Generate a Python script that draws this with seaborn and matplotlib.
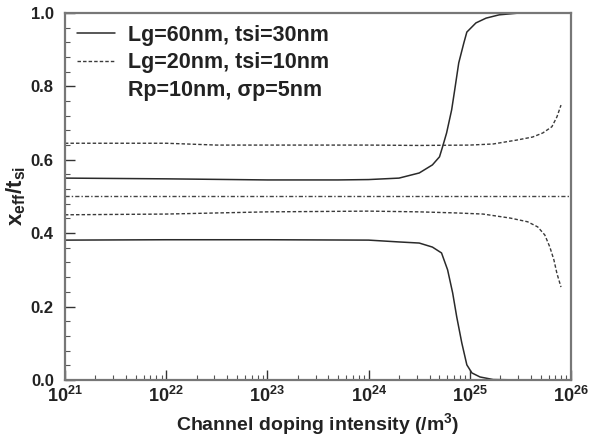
import numpy as np
import pandas as pd
import seaborn as sns
import matplotlib
matplotlib.use("Agg")
import matplotlib.pyplot as plt
from matplotlib.lines import Line2D
from matplotlib.ticker import FixedLocator, FixedFormatter, MultipleLocator

# log10 of doping intensity and xeff/tsi values
lg60_upper_x = [21.0, 22.0, 23.0, 23.7, 24.0, 24.3, 24.5, 24.63, 24.70, 24.73, 24.77, 24.82, 24.85,
                24.89, 24.94, 24.97, 25.06, 25.16, 25.29, 25.49, 25.68]
lg60_upper_y = [0.550, 0.548, 0.545, 0.545, 0.546, 0.550, 0.564, 0.586, 0.608, 0.635, 0.673, 0.736, 0.790,
                0.864, 0.918, 0.948, 0.973, 0.986, 0.995, 1.000, 1.000]
lg60_lower_x = [21.0, 22.0, 23.0, 24.0, 24.3, 24.5, 24.63, 24.72, 24.78, 24.83, 24.87, 24.92, 24.97,
                25.02, 25.10, 25.23, 25.47]
lg60_lower_y = [0.381, 0.382, 0.382, 0.381, 0.376, 0.373, 0.362, 0.346, 0.300, 0.237, 0.172, 0.101, 0.041,
                0.019, 0.008, 0.001, 0.000]
lg20_upper_x = [21.0, 22.0, 22.5, 23.0, 24.0, 24.5, 25.0, 25.23, 25.47, 25.62, 25.72, 25.81, 25.86, 25.90]
lg20_upper_y = [0.645, 0.645, 0.640, 0.640, 0.640, 0.639, 0.640, 0.643, 0.654, 0.662, 0.673, 0.690, 0.717, 0.749]
lg20_lower_x = [21.0, 22.0, 23.0, 24.0, 24.5, 24.87, 25.13, 25.40, 25.57, 25.67, 25.74, 25.79, 25.83, 25.86, 25.90]
lg20_lower_y = [0.450, 0.452, 0.458, 0.460, 0.458, 0.455, 0.452, 0.441, 0.431, 0.417, 0.395, 0.362, 0.327, 0.290, 0.253]
center_x = [21.0, 26.0]
center_y = [0.5, 0.5]

xtick_exps = [21, 22, 23, 24, 25, 26]
ytick_vals = [0.0, 0.2, 0.4, 0.6, 0.8, 1.0]

sns.set_style("ticks")
plt.rcParams['font.family'] = ['Liberation Sans', 'DejaVu Sans']
plt.rcParams['mathtext.fontset'] = 'custom'
plt.rcParams['mathtext.rm'] = 'Liberation Sans'
plt.rcParams['mathtext.bf'] = 'Liberation Sans:bold'

fig = plt.figure(figsize=(5.9, 4.48), dpi=100)
ax = fig.add_axes([0.110, 0.152, 0.858, 0.819])

def curve(xs, ys):
    return pd.DataFrame({"N": 10.0 ** np.array(xs), "x": ys})

solid_kw = dict(color="#2a2a2a", linewidth=1.1)
dash_kw = dict(color="#3a3a3a", linewidth=1.0, linestyle=(0, (2.5, 1.5)))

sns.lineplot(data=curve(lg60_upper_x, lg60_upper_y), x="N", y="x", ax=ax, **solid_kw)
sns.lineplot(data=curve(lg60_lower_x, lg60_lower_y), x="N", y="x", ax=ax, **solid_kw)
sns.lineplot(data=curve(lg20_upper_x, lg20_upper_y), x="N", y="x", ax=ax, **dash_kw)
sns.lineplot(data=curve(lg20_lower_x, lg20_lower_y), x="N", y="x", ax=ax, **dash_kw)
sns.lineplot(data=curve(center_x, center_y), x="N", y="x", ax=ax,
             color="#444444", linewidth=1.0, linestyle=(0, (3, 1.5, 1, 1.5)))

ax.set_xscale("log")
ax.set_xlim(1e21, 1e26)
ax.set_ylim(0, 1.0)

ax.xaxis.set_major_locator(FixedLocator([10.0 ** e for e in xtick_exps]))
ax.xaxis.set_major_formatter(FixedFormatter([r"$\mathbf{10^{%d}}$" % e for e in xtick_exps]))
minors = [m * 10.0 ** e for e in xtick_exps[:-1] for m in range(2, 10)]
ax.xaxis.set_minor_locator(FixedLocator(minors))
ax.xaxis.set_minor_formatter(FixedFormatter([""] * len(minors)))

ax.yaxis.set_major_locator(FixedLocator(ytick_vals))
ax.set_yticklabels([f"{v:.1f}" for v in ytick_vals], fontweight="bold")
ax.yaxis.set_minor_locator(MultipleLocator(0.04))

ax.tick_params(axis="both", which="major", direction="in", length=7, width=1.0,
               labelsize=12, colors="#333333", labelcolor="#222222", pad=8)
ax.tick_params(axis="both", which="minor", direction="in", length=3.5, width=0.8, colors="#555555")
ax.tick_params(axis="x", which="major", labelsize=13, pad=4)

for s in ax.spines.values():
    s.set_color("#777777")
    s.set_linewidth(1.6)

ax.set_xlabel("Channel doping intensity (/m$\\mathbf{^3}$)", fontsize=14, fontweight="bold", color="#222222")
ax.set_ylabel(r"$\mathbf{x_{eff}/t_{si}}$", fontsize=16, color="#222222", labelpad=2)

handles = [Line2D([], [], **solid_kw),
           Line2D([], [], **dash_kw),
           Line2D([], [], color="none")]
labels = ["Lg=60nm, tsi=30nm", "Lg=20nm, tsi=10nm", "Rp=10nm, \u03c3p=5nm"]
leg = ax.legend(handles, labels, loc="upper left", frameon=False,
                prop={"weight": "bold", "size": 15.5}, handlelength=1.8,
                handletextpad=0.6, labelspacing=0.3, borderaxespad=0.15,
                bbox_to_anchor=(0.0, 1.0))
for t in leg.get_texts():
    t.set_color("#222222")

fig.savefig("out.png", dpi=100)
